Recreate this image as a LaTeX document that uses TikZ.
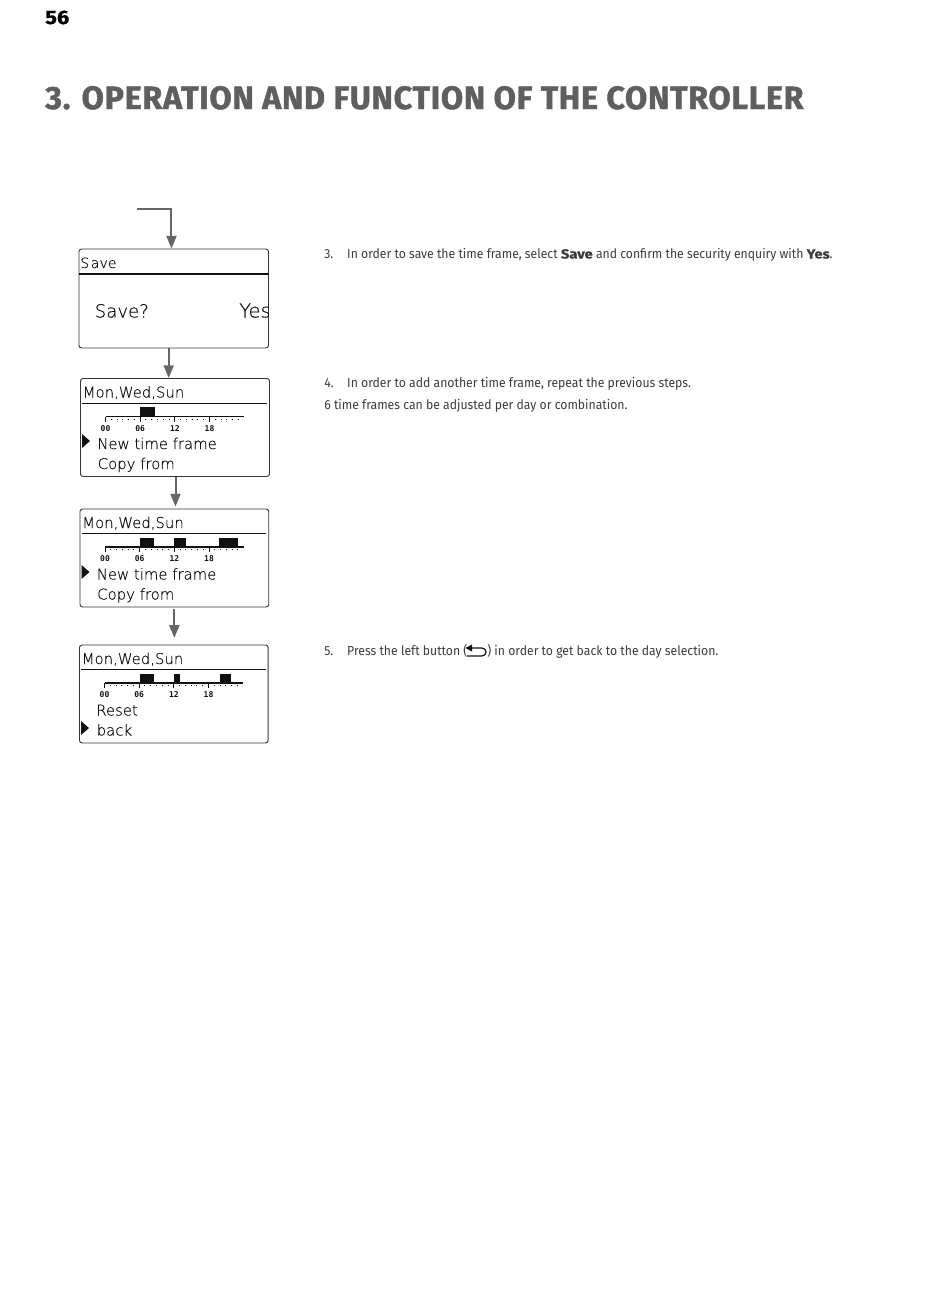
\documentclass[tikz,border=0pt]{standalone}
\usepackage{fontspec}
\usetikzlibrary{arrows.meta, positioning, calc}
\setmainfont{Fira Sans}[FakeStretch=0.93, BoldFeatures={FakeStretch=1.12, FakeBold=0.8}]
\newfontfamily\headfont{Fira Sans}[LetterSpace=2.2, BoldFeatures={FakeBold=1.4}]
\newfontfamily\lcdfont{DejaVu Sans ExtraLight}[FakeBold=0.25]
\newfontfamily\tickfont{DejaVu Sans Mono}
\definecolor{mangray}{HTML}{5F5F5F}
\definecolor{mantext}{HTML}{3C3C3C}
\definecolor{manarrow}{HTML}{666666}
\definecolor{lcdink}{HTML}{111111}
\tikzset{
  lcdbox/.style={draw=lcdink!85, line width=0.7pt, rounded corners=2pt, minimum width=(#1)*0.75pt, inner sep=0pt},
  flowarrow/.style={-{Triangle[length=9.5pt, width=7.5pt]}, line width=1.5pt, draw=manarrow},
  bodytext/.style={anchor=base west, inner sep=0pt, text=mantext, font=\fontsize{9.85}{12}\selectfont},
  lcdtext/.style={anchor=base west, inner sep=0pt, text=lcdink, font=\lcdfont\fontsize{11.15}{13}\selectfont},
  ticklabel/.style={anchor=center, inner sep=0pt, text=lcdink, font=\tickfont\bfseries\fontsize{6}{6}\selectfont}
}
\begin{document}
\begin{tikzpicture}[x=0.75pt, y=-0.75pt]
  \useasboundingbox (0,0) rectangle (950,1307);
  % page head
  \node[anchor=base west, inner sep=0pt, font=\bfseries\fontsize{14.6}{16}\selectfont, text=black] (pagenum) at (45,24) {56};
  \node[anchor=base west, inner sep=0pt, font=\headfont\bfseries\fontsize{24.2}{26}\selectfont, text=mangray] (heading) at (45,109) {3. OPERATION AND FUNCTION OF THE CONTROLLER};
  % save screen
  \node[lcdbox=189.5, minimum height=99*0.75pt] (save) at (173.75,298.5) {};
  \draw[lcdink, line width=1pt] (79,274) -- (268.5,274);
  \node[lcdtext, font=\lcdfont\fontsize{10.6}{13}\selectfont] (savetitle) at (80,268) {S\hspace{1.2pt}ave};
  \node[lcdtext, font=\lcdfont\fontsize{13.6}{16}\selectfont] (saveask) at (94.5,317.5) {Save?};
  \begin{scope}
    \clip (save.south west) rectangle (save.north east);
    \node[lcdtext, font=\lcdfont\fontsize{14.6}{16}\selectfont] (saveyes) at (239,317.5) {Yes};
  \end{scope}
  % time frame screens
  \foreach \scr/\lx/\rx/\ty/\bars/\rowa/\rowb/\marky in {
    scra/80/269/378/{140/154.5}/New time frame/Copy from/441,
    scrb/79.5/268.3/508.5/{140/154, 174/186, 219/237.5}/New time frame/Copy from/572,
    scrc/79/267.7/644.5/{139.5/153.5, 174/179.5, 220/231}/Reset/back/728} {
    \node[lcdbox=\rx-\lx, minimum height=98*0.75pt, anchor=north west] (\scr) at (\lx,\ty) {};
    \node[lcdtext] (\scr title) at (\lx+2.5,\ty+19.5) {Mon,Wed,Sun};
    \draw[lcdink, line width=1pt] (\lx+2,\ty+25.2) -- (\rx-2,\ty+25.2);
    % axis with hour dots
    \draw[lcdink, line width=1pt] (\lx+25.5,\ty+38.5) -- (\lx+164,\ty+38.5);
    \foreach \h in {0,...,23}
      \fill[lcdink] (\lx+25.5+\h*5.78-0.5,\ty+40.5) rectangle ++(1,1);
    \foreach \h/\t in {0/00,6/06,12/12,18/18} {
      \draw[lcdink, line width=0.6pt] (\lx+25.5+\h*5.78,\ty+38.5) -- ++(0,5);
      \node[ticklabel] (\scr tick\t) at (\lx+25.5+\h*5.78,\ty+50.5) {\t};
    }
    \foreach \ba/\bb in \bars
      \fill[lcdink] (\ba,\ty+29) rectangle (\bb,\ty+38.5);
    \node[lcdtext] (\scr rowa) at (\lx+17,\ty+71) {\rowa};
    \node[lcdtext] (\scr rowb) at (\lx+17.5,\ty+91) {\rowb};
    \fill[lcdink] (\lx+2,\marky-7) -- (\lx+10,\marky) -- (\lx+2,\marky+7) -- cycle;
  }
  % arrows
  \coordinate (entryin) at (137,209);
  \draw[flowarrow] (entryin) -| ([xshift=-1.7pt]save.north);
  \draw[flowarrow] ([xshift=-3.8pt]save.south) -- ([xshift=-3.8pt]save.south |- scra.north);
  \draw[flowarrow] ([xshift=0.4pt]scra.south) -- ([xshift=0.4pt,yshift=1.5pt]scra.south |- scrb.north);
  \draw[flowarrow, shorten <=1.5pt, shorten >=5pt] (scrb.south) -- (scrb.south |- scrc.north);
  % steps
  \node[bodytext] (stepa) at (324,258.5) {\makebox[17.2pt][l]{3.}In order to save the time frame, select \textbf{Save} and confirm the security enquiry with \textbf{Yes}.};
  \node[bodytext] (stepb) at (324,387.5) {\makebox[17.2pt][l]{4.}In order to add another time frame, repeat the previous steps.};
  \node[bodytext] (stepc) at (324,409.5) {6 time frames can be adjusted per day or combination.};
  \node[bodytext] (stepd) at (324,655.5) {\makebox[17.2pt][l]{5.}Press the left button (};
  \node[bodytext] (stepe) at (487,655.5) {) in order to get back to the day selection.};
  % return button glyph
  \draw[lcdink, line width=0.9pt, rounded corners=3pt] (471,648) -- (486,648) -- (486,656) -- (467,656);
  \fill[lcdink] (465.5,648) -- (472,644.5) -- (472,651.5) -- cycle;
\end{tikzpicture}
\end{document}
